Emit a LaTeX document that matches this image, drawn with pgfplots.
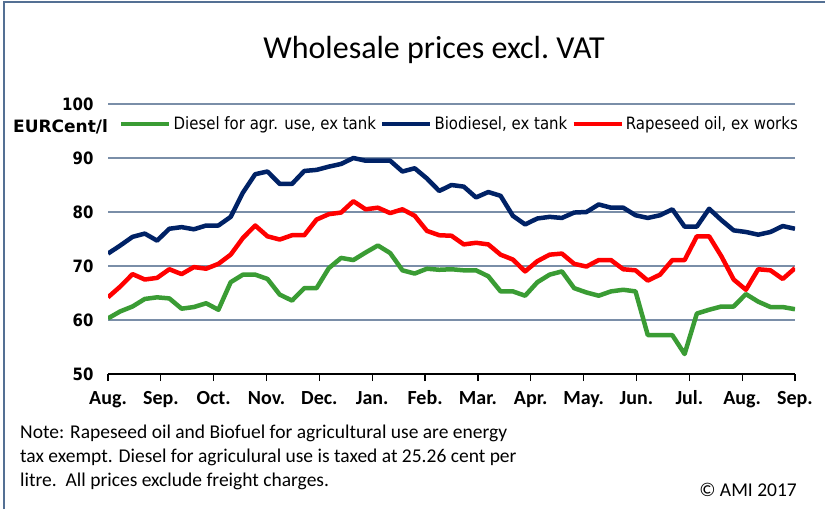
\documentclass[border=0pt]{standalone}
\usepackage{fontspec}
\setmainfont{Carlito}
\newfontfamily\dv[FakeStretch=0.88]{DejaVu Sans}
\newfontfamily\dvn{DejaVu Sans}
\usepackage{pgfplots}
\pgfplotsset{compat=1.18}
\definecolor{gr}{RGB}{58,156,52}
\definecolor{nv}{RGB}{0,34,102}
\definecolor{rd}{RGB}{255,0,0}
\definecolor{gridc}{RGB}{122,142,168}
\definecolor{framec}{RGB}{84,112,148}
\begin{document}
\begin{tikzpicture}[x=1pt,y=1pt]
\path[use as bounding box] (0,0) rectangle (825,-509);
\fill[white] (0,0) rectangle (825,-509);
\draw[framec, line width=1.5pt] (4,-509) -- (4,-2) -- (825,-2);
\node[anchor=base, inner sep=0, font=\fontsize{32}{38}\selectfont] at (434,-58) {Wholesale prices excl.\ VAT};
\begin{axis}[
  scale only axis, width=687pt, height=270pt,
  at={(108pt,-374pt)}, anchor=south west,
  xmin=0, xmax=56, ymin=50, ymax=100,
  axis x line*=bottom, axis y line*=left,
  y axis line style={draw=none},
  x axis line style={black, line width=1.3pt},
  xtick={0,4.3077,8.6154,12.9231,17.2308,21.5385,25.8462,30.1538,34.4615,38.7692,43.0769,47.3846,51.6923,56},
  xticklabels={Aug.,Sep.,Oct.,Nov.,Dec.,Jan.,Feb.,Mar.,Apr.,May.,Jun.,Jul.,Aug.,Sep.},
  ytick={50,60,70,80,90,100},
  ymajorgrids, grid style={gridc, line width=1.8pt},
  tick align=outside, major tick length=7pt,
  xtick style={black, line width=1.2pt},
  ytick style={draw=none},
  xticklabel style={font=\bfseries\fontsize{20}{24}\selectfont, text height=14pt, text depth=4pt, yshift=-6pt},
  yticklabel style={font=\dv\bfseries\fontsize{17}{20}\selectfont, xshift=-4pt},
  /pgf/number format/assume math mode=true,
  legend columns=3,
  legend style={at={(0.016,0.926)}, anchor=west, draw=none, fill=none, inner sep=0pt,
    font=\dv\fontsize{17}{20}\selectfont,
    nodes={inner sep=2pt},
    /tikz/every even column/.append style={column sep=2pt}},
  legend image code/.code={\draw[#1, line width=4.5pt] (0pt,0pt) -- (48pt,0pt);},
  every axis plot/.append style={line width=4.5pt, line join=round, mark=none},
]
\addplot[gr] coordinates {
(0,60.3)(1,61.6)(2,62.5)(3,63.9)(4,64.2)(5,64.0)(6,62.1)(7,62.4)(8,63.1)(9,61.9)
(10,67.0)(11,68.4)(12,68.4)(13,67.6)(14,64.7)(15,63.6)(16,65.9)(17,65.9)(18,69.6)(19,71.5)
(20,71.1)(21,72.5)(22,73.8)(23,72.4)(24,69.2)(25,68.6)(26,69.5)(27,69.3)(28,69.4)(29,69.2)
(30,69.2)(31,68.1)(32,65.3)(33,65.3)(34,64.5)(35,67.0)(36,68.4)(37,69.0)(38,65.9)(39,65.1)
(40,64.5)(41,65.3)(42,65.6)(43,65.3)(44,57.2)(45,57.2)(46,57.2)(47,53.7)(48,61.2)(49,61.9)
(50,62.5)(51,62.5)(52,64.8)(53,63.4)(54,62.4)(55,62.4)(56,62.0)};
\addlegendentry{Diesel for agr. use, ex tank}
\addplot[nv] coordinates {
(0,72.3)(1,73.8)(2,75.4)(3,76.0)(4,74.7)(5,76.9)(6,77.2)(7,76.8)(8,77.5)(9,77.5)
(10,79.1)(11,83.6)(12,87.0)(13,87.5)(14,85.2)(15,85.2)(16,87.6)(17,87.8)(18,88.4)(19,88.9)
(20,90.0)(21,89.5)(22,89.5)(23,89.5)(24,87.5)(25,88.1)(26,86.2)(27,83.9)(28,85.0)(29,84.7)
(30,82.7)(31,83.7)(32,83.0)(33,79.3)(34,77.7)(35,78.8)(36,79.1)(37,78.9)(38,79.9)(39,80.0)
(40,81.4)(41,80.8)(42,80.8)(43,79.4)(44,78.9)(45,79.4)(46,80.5)(47,77.3)(48,77.3)(49,80.6)
(50,78.5)(51,76.6)(52,76.3)(53,75.8)(54,76.3)(55,77.4)(56,76.9)};
\addlegendentry{Biodiesel, ex tank}
\addplot[rd] coordinates {
(0,64.2)(1,66.2)(2,68.5)(3,67.5)(4,67.8)(5,69.4)(6,68.5)(7,69.8)(8,69.5)(9,70.4)
(10,72.1)(11,75.2)(12,77.5)(13,75.5)(14,74.9)(15,75.7)(16,75.7)(17,78.6)(18,79.6)(19,79.9)
(20,82.0)(21,80.5)(22,80.8)(23,79.8)(24,80.5)(25,79.3)(26,76.5)(27,75.7)(28,75.6)(29,74.0)
(30,74.3)(31,74.0)(32,72.1)(33,71.2)(34,69.0)(35,70.9)(36,72.1)(37,72.3)(38,70.4)(39,69.9)
(40,71.1)(41,71.1)(42,69.4)(43,69.2)(44,67.3)(45,68.4)(46,71.1)(47,71.1)(48,75.5)(49,75.5)
(50,71.8)(51,67.5)(52,65.6)(53,69.4)(54,69.2)(55,67.6)(56,69.6)};
\addlegendentry{Rapeseed oil, ex works}
\end{axis}
\node[anchor=west, inner sep=0, font=\dvn\bfseries\fontsize{17}{20}\selectfont] at (13,-127) {EURCent/l};
\node[anchor=base west, align=left, inner sep=0, font=\fontsize{19.5}{24}\selectfont] at (20,-486) {Note: Rapeseed oil and Biofuel for agricultural use are energy\\tax exempt. Diesel for agriculural use is taxed at 25.26 cent per\\litre.\ \ All prices exclude freight charges.};
\node[anchor=base east, inner sep=0, font=\fontsize{19.5}{22}\selectfont] at (797,-496) {© AMI 2017};
\end{tikzpicture}
\end{document}
